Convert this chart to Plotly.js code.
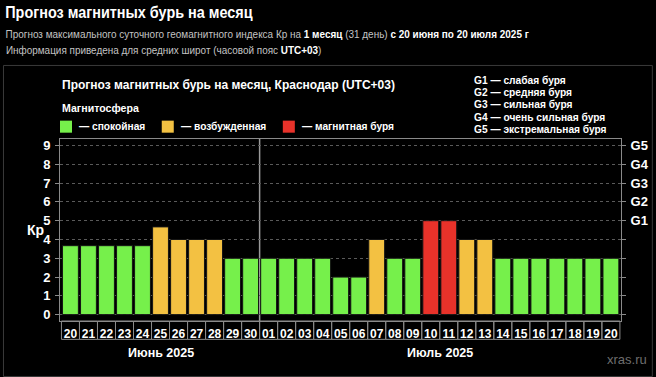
<!DOCTYPE html>
<html><head><meta charset="utf-8">
<script src="https://cdn.plot.ly/plotly-3.0.1.min.js"></script>
<style>html,body{margin:0;padding:0;background:#000;}#chart{width:656px;height:377px;}</style>
</head><body><div id="chart"></div>
<script>
// ---- data ----
const juneDays = ['20','21','22','23','24','25','26','27','28','29','30'];
const julyDays = ['01','02','03','04','05','06','07','08','09','10','11','12','13','14','15','16','17','18','19','20'];
const days = juneDays.concat(julyDays);
const kp = [3.67,3.67,3.67,3.67,3.67,4.67,4,4,4,3,3,
            3,3,3,3,2,2,4,3,3,5,5,4,4,3,3,3,3,3,3,3];
const status = ['calm','calm','calm','calm','calm','excited','excited','excited','excited','calm','calm',
                'calm','calm','calm','calm','calm','calm','excited','calm','calm','storm','storm','excited','excited',
                'calm','calm','calm','calm','calm','calm','calm'];
const statusColors = {calm:'#76f04b', excited:'#f3c142', storm:'#e8322a'};
const legendLabels = [['calm','— спокойная'],['excited','— возбужденная'],['storm','— магнитная буря']];
const gLabels = ['G1 — слабая буря','G2 — средняя буря','G3 — сильная буря','G4 — очень сильная буря','G5 — экстремальная буря'];
const gLevels = [5,6,7,8,9];
const monthLabels = ['Июнь 2025','Июль 2025'];

// ---- geometry helpers (pixels -> paper) ----
const L=60, R=620.7, T=139.3, B=320.7;
const px = x => (x-L)/(R-L);
const py = y => (B-y)/(B-T);

const idx = days.map((d,i)=>i);
const FONT = 'Liberation Sans, Arial, sans-serif';

const trace = {
  type:'bar', x: idx, y: kp,
  marker:{color: status.map(s=>statusColors[s]), line:{color:'#151515', width:1}},
  hoverinfo:'skip', showlegend:false
};
const trace2 = {type:'scatter', x:[0], y:[null], yaxis:'y2', showlegend:false, hoverinfo:'skip'};

const shapes = [];
const annotations = [];
// outer panel frame
shapes.push({type:'rect', xref:'paper', yref:'paper', x0:px(3.5), x1:px(652), y0:py(376), y1:py(66), line:{color:'#3a3a3a', width:1}, layer:'below'});
// day label cells
idx.forEach(i=>{
  shapes.push({type:'rect', xref:'x', yref:'paper', x0:i-0.5, x1:i+0.5, y0:py(339), y1:0, line:{color:'#8a8a8a', width:1}});
});
// month boundary
shapes.push({type:'line', xref:'x', yref:'paper', x0:juneDays.length-0.5, x1:juneDays.length-0.5, y0:0, y1:1, line:{color:'#9a9a9a', width:1.5}, layer:'below'});

// month labels
const monthSpans = [[0, juneDays.length-1],[juneDays.length, days.length-1]];
monthSpans.forEach((s,k)=>{
  annotations.push({xref:'x', yref:'paper', x:(s[0]+s[1])/2, y:py(352.7), text:'<b>'+monthLabels[k]+'</b>', showarrow:false, xanchor:'center', yanchor:'middle', font:{family:FONT, size:12.5, color:'#fff'}});
});

// header (narrowed to the reference's condensed face after render)
const header = [
  {text:'<b>Прогноз магнитных бурь на месяц</b>', left:5, width:248, y:13, size:17, color:'#fff'},
  {text:'Прогноз максимального суточного геомагнитного индекса Кр на <b><span style="color:#fff">1 месяц</span></b> (31 день) <b><span style="color:#fff">с 20 июня по 20 июля 2025 г</span></b>', left:5, width:524, y:35, size:11.5, color:'#c4c4c4'},
  {text:'Информация приведена для средних широт (часовой пояс <b><span style="color:#fff">UTC+03</span></b>)', left:5, width:316, y:51, size:11.5, color:'#c4c4c4'}
];
const headerStart = annotations.length;
header.forEach(h=>{
  annotations.push({xref:'paper', yref:'paper', x:px(h.left+h.width/2), y:py(h.y), text:h.text, showarrow:false, xanchor:'center', yanchor:'middle', font:{family:FONT, size:h.size, color:h.color}});
});

// panel title
annotations.push({xref:'paper', yref:'paper', x:px(60), y:py(85), text:'<b>Прогноз магнитных бурь на месяц, Краснодар (UTC+03)</b>', showarrow:false, xanchor:'left', yanchor:'middle', font:{family:FONT, size:12, color:'#fff'}});
annotations.push({xref:'paper', yref:'paper', x:px(60), y:py(108), text:'<b>Магнитосфера</b>', showarrow:false, xanchor:'left', yanchor:'middle', font:{family:FONT, size:10.6, color:'#fff'}});

// legend
const legX = [60, 161.7, 282.7];
legendLabels.forEach((l,k)=>{
  shapes.push({type:'rect', xref:'paper', yref:'paper', x0:px(legX[k]), x1:px(legX[k]+12), y0:py(133), y1:py(121), fillcolor:statusColors[l[0]], line:{width:0}});
  annotations.push({xref:'paper', yref:'paper', x:px(legX[k]+17), y:py(127), text:'<b>'+l[1]+'</b>', showarrow:false, xanchor:'left', yanchor:'middle', font:{family:FONT, size:10.2, color:'#fff'}});
});

// G legend
gLabels.forEach((g,k)=>{
  annotations.push({xref:'paper', yref:'paper', x:px(471.5), y:py(80.7+k*12.25), text:'<b>'+g+'</b>', showarrow:false, xanchor:'left', yanchor:'middle', font:{family:FONT, size:10.2, color:'#fff'}});
});

// Kp label
annotations.push({xref:'paper', yref:'paper', x:px(35.5), y:py(230), text:'<b>Кр</b>', showarrow:false, xanchor:'center', yanchor:'middle', font:{family:FONT, size:14, color:'#fff'}});
// watermark
annotations.push({xref:'paper', yref:'paper', x:px(626.7), y:py(359), text:'xras.ru', showarrow:false, xanchor:'center', yanchor:'middle', font:{family:FONT, size:13, color:'#6e6e6e'}});

const yRange = [-0.34, 9.35];
const ticks = [0,1,2,3,4,5,6,7,8,9];
const layout = {
  width:656, height:377,
  margin:{l:L, r:656-R, t:T, b:377-B, pad:0},
  paper_bgcolor:'#000', plot_bgcolor:'#000',
  bargap:0.12,
  showlegend:false,
  xaxis:{range:[-0.58, days.length-0.44], tickvals:idx, ticktext:days.map(d=>'<b>'+d+'</b>'), ticks:'', showgrid:false, zeroline:false,
         showline:true, mirror:true, linecolor:'#8a8a8a', linewidth:1,
         tickfont:{family:FONT, size:12, color:'#fff'}, ticklabelstandoff:2, fixedrange:true},
  yaxis:{range:yRange, tickvals:ticks, ticktext:ticks.map(t=>'<b>'+t+'</b>'), ticks:'outside', ticklen:4, tickcolor:'#8a8a8a',
         showgrid:true, gridcolor:'#5a5a5a', griddash:'dot', gridwidth:1, zeroline:false,
         showline:true, linecolor:'#8a8a8a', linewidth:1,
         tickfont:{family:FONT, size:13, color:'#fff'}, ticklabelstandoff:2},
  yaxis2:{range:yRange, overlaying:'y', side:'right', tickvals:ticks, ticktext:ticks.map(t=>{const k=gLevels.indexOf(t); return k>=0?'<b>G'+(k+1)+'</b>':'';}),
          ticks:'outside', ticklen:4, tickcolor:'#8a8a8a', showgrid:false, zeroline:false,
          showline:true, linecolor:'#8a8a8a', linewidth:1,
          tickfont:{family:FONT, size:13, color:'#fff'}, ticklabelstandoff:2},
  shapes:shapes, annotations:annotations
};
Plotly.newPlot('chart', [trace, trace2], layout, {displayModeBar:false, staticPlot:true}).then(gd=>{
  header.forEach((h,k)=>{
    const t = gd.querySelector('.annotation[data-index="'+(headerStart+k)+'"] text.annotation-text');
    if(t){
      const bb = t.getBBox();
      const cx = bb.x + bb.width/2;
      const s = h.width / bb.width;
      t.setAttribute('transform', 'translate('+cx+',0) scale('+s+',1) translate('+(-cx)+',0)');
    }
  });
});
</script></body></html>
